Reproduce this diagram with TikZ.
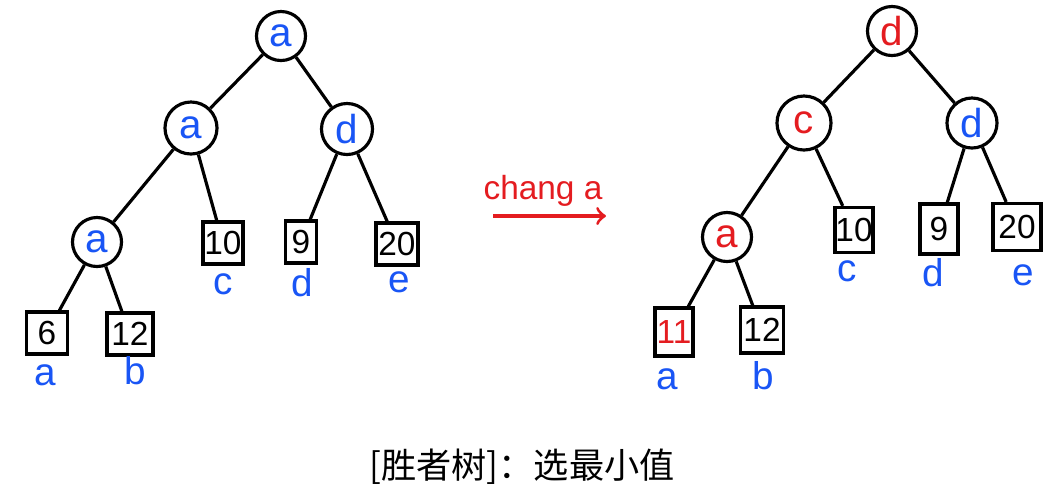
\documentclass[tikz,border=0pt]{standalone}
\usepackage{fontspec}
\setmainfont{Liberation Sans}
\newfontfamily\cjk{Noto Sans CJK SC}
\definecolor{inkblue}{RGB}{25,85,245}
\definecolor{inkred}{RGB}{228,28,32}

\begin{document}
\begin{tikzpicture}[x=0.01cm,y=-0.01cm,line width=0.9pt,
  win/.style={draw,circle,minimum size=0.49cm,inner sep=0pt,font=\fontsize{11.5}{12}\selectfont},
  leaf/.style={draw,minimum width=0.4cm,minimum height=0.42cm,inner sep=0pt,font=\fontsize{9.5}{10}\selectfont},
  tag/.style={text=inkblue,font=\fontsize{11}{12}\selectfont}]
  \useasboundingbox (0,0) rectangle (1060,496);

  \node[win,text=inkblue] (lr) at (281,36) {a};
  \node[win,text=inkblue,minimum size=0.52cm] (la) at (191,128) {a};
  \node[win,text=inkblue,minimum size=0.51cm] (ld) at (347,129) {d};
  \node[win,text=inkblue] (laa) at (97,242) {a};
  \node[leaf] (l10) at (223,243) {10};
  \node[leaf,minimum width=0.31cm] (l9) at (301,242) {9};
  \node[leaf,minimum width=0.42cm] (l20) at (397,244) {20};
  \node[leaf,minimum width=0.41cm] (l6) at (47,333) {6};
  \node[leaf,minimum width=0.46cm] (l12) at (130,334) {12};
  \node[tag] (lc) at (223,284) {c};
  \node[tag] (lds) at (302,283) {d};
  \node[tag] (le) at (399,282) {e};
  \node[tag] (lat) at (45,375) {a};
  \node[tag] (lbt) at (135,371) {b};
  \foreach \u/\v in {lr/la,lr/ld,la/laa,la/l10,ld/l9,ld/l20,laa/l6,laa/l12}{
    \draw (\u) -- (\v);}

  \node[text=inkred,font=\fontsize{9.5}{10}\selectfont] (chg) at (543,191) {chang a};
  \coordinate (from) at (493,216);
  \coordinate (to) at (606,216);
  \draw[inkred,->] (from) -- (to);

  \node[win,text=inkred] (rr) at (892,31) {d};
  \node[win,text=inkred,minimum size=0.54cm] (rc) at (804,123) {c};
  \node[win,text=inkblue,minimum size=0.5cm] (rd) at (972,123) {d};
  \node[win,text=inkred] (ra) at (727,237) {a};
  \node[leaf,minimum width=0.38cm,minimum height=0.45cm] (r10) at (854,230) {10};
  \node[leaf,minimum width=0.38cm,minimum height=0.5cm] (r9) at (939,229) {9};
  \node[leaf,minimum width=0.48cm,minimum height=0.47cm] (r20) at (1017,227) {20};
  \node[leaf,text=inkred,minimum width=0.38cm,minimum height=0.48cm] (r11) at (674,332) {11};
  \node[leaf,minimum width=0.43cm,minimum height=0.46cm] (r12) at (762,330) {12};
  \node[tag] (rcs) at (847,271) {c};
  \node[tag] (rds) at (933,273) {d};
  \node[tag] (re) at (1023,275) {e};
  \node[tag] (rat) at (667,379) {a};
  \node[tag] (rbt) at (763,376) {b};
  \foreach \u/\v in {rr/rc,rr/rd,rc/ra,rc/r10,rd/r9,rd/r20,ra/r11,ra/r12}{
    \draw (\u) -- (\v);}

  \node[font=\cjk\fontsize{10}{10}\selectfont] (cap) at (522,467) {[胜者树]：选最小值};
\end{tikzpicture}
\end{document}
